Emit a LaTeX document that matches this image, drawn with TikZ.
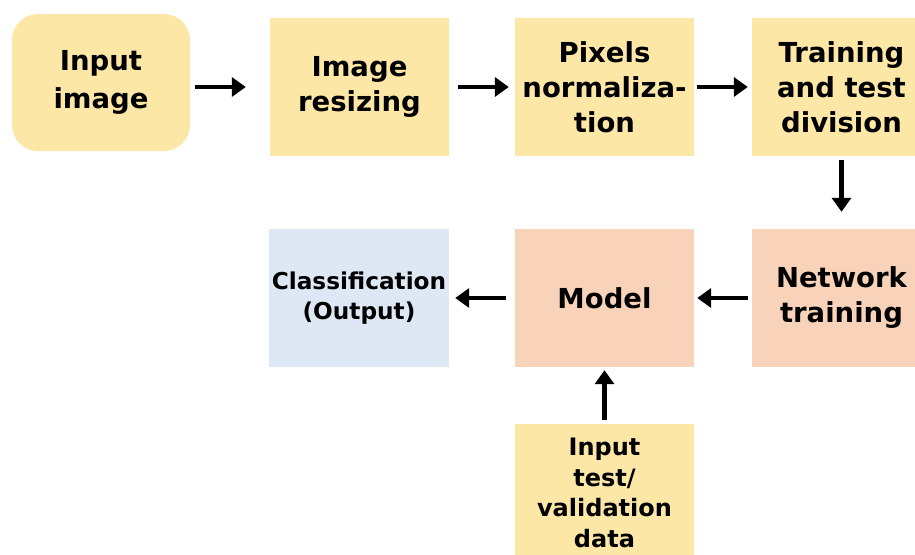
\documentclass[tikz,border=0pt]{standalone}
\usepackage{fontspec}
\setmainfont{DejaVu Sans}
\usetikzlibrary{arrows.meta}
\definecolor{ylw}{HTML}{FDE7A7}
\definecolor{pch}{HTML}{F8D3B9}
\definecolor{lblue}{HTML}{DEE8F4}
\tikzset{
  box/.style={inner sep=0pt, align=center, font=\bfseries\fontsize{27.5}{35}\selectfont},
  arr/.style={line width=4.5pt, -{Triangle[length=14pt,width=19pt]}},
}
\begin{document}
\begin{tikzpicture}[x=1pt,y=-1pt]
\useasboundingbox (0,0) rectangle (915,554);
\begin{scope}
\clip (0,0) rectangle (915,554);
\node[box, fill=ylw, rounded corners=26pt, minimum width=178pt, minimum height=137pt, font=\bfseries\fontsize{27.5}{38}\selectfont] (a) at (101,82.5) {Input\\image};
\node[box, fill=ylw, minimum width=179pt, minimum height=138pt] (b) at (359.5,87) {Image\\resizing};
\node[box, fill=ylw, minimum width=179pt, minimum height=138pt] (c) at (604.5,87) {Pixels\\normaliza-\\tion};
\node[box, fill=ylw, minimum width=179pt, minimum height=138pt] (d) at (841.5,87) {Training\\and test\\division};
\node[box, fill=pch, minimum width=179pt, minimum height=138pt] (e) at (841.5,298) {Network\\training};
\node[box, fill=pch, minimum width=179pt, minimum height=138pt] (f) at (604.5,298) {Model};
\node[box, fill=lblue, minimum width=180pt, minimum height=138pt, font=\bfseries\fontsize{23.2}{30}\selectfont] (g) at (359,298) {Classification\\(Output)};
\node[box, fill=ylw, minimum width=179pt, minimum height=138pt, font=\bfseries\fontsize{24}{30.5}\selectfont] (h) at (604.5,493) {Input\\test/\\validation\\data};
\end{scope}
\draw[arr, shorten <=5pt, shorten >=24pt] (a.east |- b.west) -- (b.west);
\draw[arr, shorten <=9pt, shorten >=6pt] (b.east) -- (c.west);
\draw[arr, shorten <=3pt, shorten >=4pt] (c.east) -- (d.west);
\draw[arr, shorten <=4pt, shorten >=17pt] (d.south) -- (e.north);
\draw[arr, shorten <=4pt, shorten >=3pt] (e.west) -- (f.east);
\draw[arr, shorten <=9pt, shorten >=6pt] (f.west) -- (g.east);
\draw[arr, shorten <=4pt, shorten >=3pt] (h.north) -- (f.south);
\end{tikzpicture}
\end{document}
